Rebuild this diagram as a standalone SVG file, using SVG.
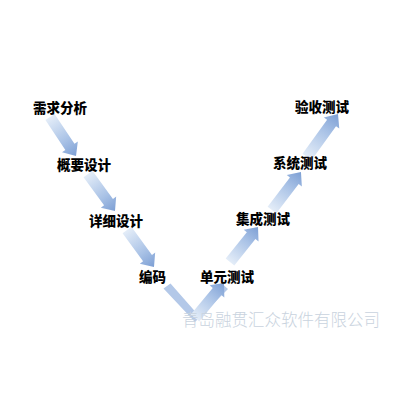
<svg xmlns="http://www.w3.org/2000/svg" width="400" height="400" viewBox="0 0 400 400">
<style>
.lbl{font-family:"Noto Sans CJK SC","Noto Sans",sans-serif;font-size:13.5px;font-weight:900;fill:#000;}
.wm{font-family:"Noto Sans CJK SC","Noto Sans",sans-serif;font-size:16.5px;font-weight:300;fill:#c9d3de;}
</style>
<defs>
<linearGradient id="g" x1="0" y1="0" x2="1" y2="0">
<stop offset="0" stop-color="#e4edf8"/>
<stop offset="0.6" stop-color="#a9c2e6"/>
<stop offset="1" stop-color="#7d9fd4"/>
</linearGradient>
<linearGradient id="gd" x1="0" y1="0" x2="1" y2="0">
<stop offset="0" stop-color="#dfe9f6"/>
<stop offset="1" stop-color="#9cb8e2"/>
</linearGradient>
</defs>
<rect width="400" height="400" fill="#fff"/>
<g id="connectors">
<path transform="translate(50,117) rotate(56.3)" d="M0,-5.5 L35.9,-5.5 L35.9,-9.5 L46.9,0 L35.9,9.5 L35.9,5.5 L0,5.5 Z" fill="url(#g)"/>
<path transform="translate(88,174) rotate(53.9)" d="M0,-5.5 L34.8,-5.5 L34.8,-9.5 L45.8,0 L34.8,9.5 L34.8,5.5 L0,5.5 Z" fill="url(#g)"/>
<path transform="translate(127,230) rotate(53.9)" d="M0,-5.5 L34.8,-5.5 L34.8,-9.5 L45.8,0 L34.8,9.5 L34.8,5.5 L0,5.5 Z" fill="url(#g)"/>
<path d="M163.5,288.5 L170.5,283.5 L196,312.5 L221,283 L228,289 L195,322 Z" fill="#b3c8e8"/>
<path transform="translate(195,318) rotate(-50.4)" d="M0,-5.5 L34.5,-5.5 L34.5,-9.5 L45.5,0 L34.5,9.5 L34.5,5.5 L0,5.5 Z" fill="url(#g)"/>
<path transform="translate(230,262) rotate(-51.3)" d="M0,-5.5 L33.8,-5.5 L33.8,-9.5 L44.8,0 L33.8,9.5 L33.8,5.5 L0,5.5 Z" fill="url(#g)"/>
<path transform="translate(272,210) rotate(-52.7)" d="M0,-5.5 L36.8,-5.5 L36.8,-9.5 L47.8,0 L36.8,9.5 L36.8,5.5 L0,5.5 Z" fill="url(#g)"/>
<path transform="translate(307,157) rotate(-54.2)" d="M0,-5.5 L42,-5.5 L42,-9.5 L53,0 L42,9.5 L42,5.5 L0,5.5 Z" fill="url(#g)"/>
</g>
<g id="n1"><text class="lbl" x="33" y="113">需求分析</text></g>
<g id="n2"><text class="lbl" x="57" y="170">概要设计</text></g>
<g id="n3"><text class="lbl" x="89" y="226">详细设计</text></g>
<g id="n4"><text class="lbl" x="139" y="282">编码</text></g>
<g id="n5"><text class="lbl" x="200" y="282">单元测试</text></g>
<g id="n6"><text class="lbl" x="236" y="224">集成测试</text></g>
<g id="n7"><text class="lbl" x="273" y="168">系统测试</text></g>
<g id="n8"><text class="lbl" x="295" y="112">验收测试</text></g>
<text class="wm" x="182" y="326">青岛融贯汇众软件有限公司</text>
</svg>
